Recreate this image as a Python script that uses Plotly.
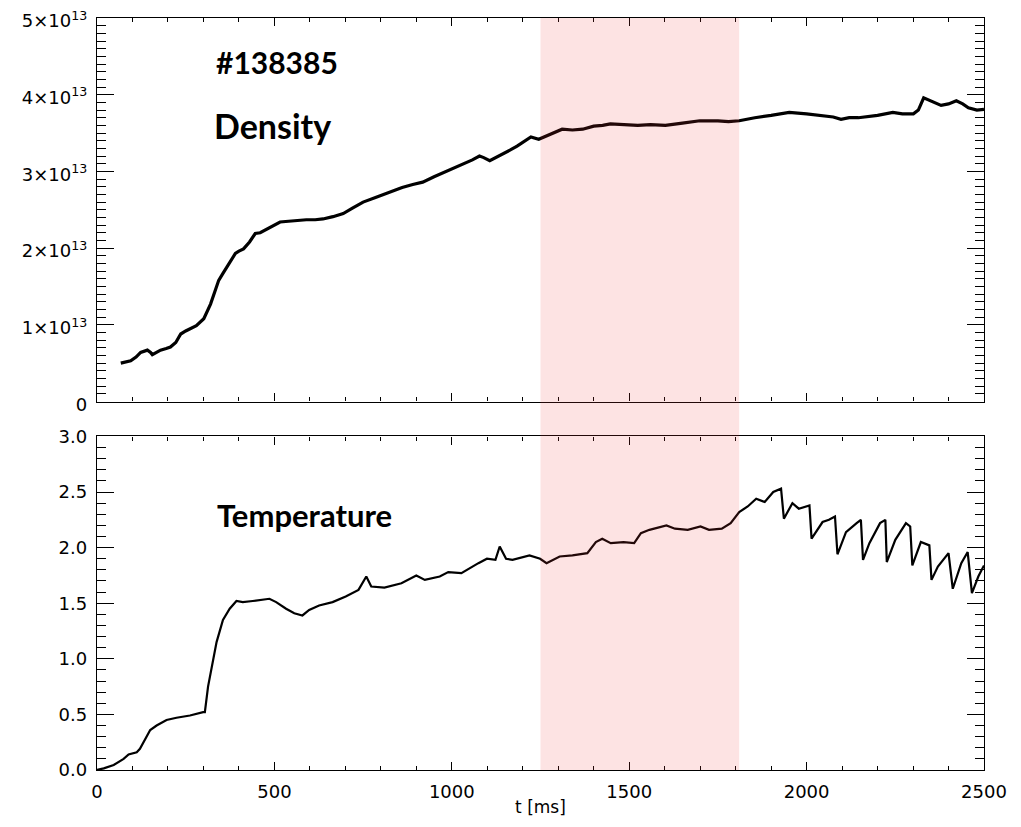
import plotly.graph_objects as go

# ---------------- data ----------------
density_t = [67, 80, 95, 110, 123, 142, 151, 156, 170, 179, 195, 207, 222, 236, 250, 264, 280, 301,
             310, 320, 332, 343, 355, 366, 378, 390, 400, 413, 430, 446, 460, 479, 500, 516, 540,
             563, 590, 615, 637, 665, 694, 720, 750, 785, 824, 860, 890, 918, 950, 975, 1000,
             1030, 1058, 1078, 1090, 1107, 1125, 1146, 1165, 1184, 1205, 1223, 1245, 1270, 1290,
             1311, 1340, 1369, 1400, 1425, 1447, 1480, 1524, 1560, 1602, 1650, 1699, 1750, 1780,
             1810, 1830, 1854, 1900, 1951, 2000, 2049, 2075, 2097, 2120, 2146, 2200, 2243, 2270,
             2301, 2315, 2330, 2349, 2365, 2379, 2400, 2422, 2440, 2456, 2480, 2500]
density_e13 = [0.50, 0.51, 0.53, 0.58, 0.64, 0.67, 0.64, 0.61, 0.64, 0.67, 0.69, 0.71, 0.77, 0.88,
               0.92, 0.95, 0.99, 1.08, 1.16, 1.27, 1.43, 1.58, 1.67, 1.75, 1.84, 1.93, 1.96, 1.99,
               2.08, 2.19, 2.20, 2.25, 2.30, 2.34, 2.35, 2.36, 2.37, 2.37, 2.38, 2.41, 2.45, 2.52,
               2.60, 2.66, 2.73, 2.79, 2.83, 2.86, 2.93, 2.98, 3.04, 3.10, 3.15, 3.20, 3.18, 3.14,
               3.18, 3.23, 3.28, 3.33, 3.40, 3.45, 3.42, 3.47, 3.51, 3.55, 3.54, 3.55, 3.59, 3.60,
               3.62, 3.61, 3.60, 3.61, 3.60, 3.63, 3.66, 3.66, 3.65, 3.66, 3.68, 3.70, 3.73, 3.77,
               3.75, 3.73, 3.71, 3.68, 3.70, 3.70, 3.73, 3.77, 3.75, 3.75, 3.80, 3.96, 3.92, 3.88,
               3.86, 3.88, 3.92, 3.88, 3.83, 3.80, 3.81]

temp_t = [0, 19, 47, 75, 89, 112, 121, 150, 168, 196, 224, 262, 299, 304, 313, 323, 337, 355, 374,
          393, 411, 439, 467, 486, 505, 533, 556, 579, 598, 626, 664, 701, 737, 759, 773, 810,
          858, 882, 900, 924, 966, 990, 1027, 1075, 1099, 1123, 1135, 1153, 1171, 1219, 1249,
          1267, 1304, 1340, 1382, 1406, 1424, 1448, 1484, 1514, 1533, 1557, 1605, 1629, 1665,
          1701, 1725, 1761, 1786, 1810, 1834, 1858, 1882, 1906, 1928, 1936, 1960, 1978, 2008,
          2014, 2045, 2063, 2080, 2087, 2111, 2141, 2153, 2159, 2177, 2207, 2222, 2226, 2250,
          2280, 2292, 2298, 2322, 2346, 2352, 2370, 2400, 2412, 2436, 2454, 2466, 2484, 2500]
temp_keV = [0.00, 0.015, 0.045, 0.10, 0.14, 0.16, 0.19, 0.36, 0.40, 0.45, 0.47, 0.49, 0.52, 0.52,
            0.75, 0.93, 1.15, 1.35, 1.45, 1.52, 1.51, 1.52, 1.53, 1.54, 1.51, 1.45, 1.41, 1.39,
            1.44, 1.48, 1.51, 1.56, 1.62, 1.74, 1.65, 1.64, 1.68, 1.72, 1.75, 1.71, 1.74, 1.78,
            1.77, 1.86, 1.90, 1.89, 2.01, 1.90, 1.89, 1.93, 1.90, 1.86, 1.92, 1.93, 1.95, 2.05,
            2.08, 2.04, 2.05, 2.04, 2.13, 2.16, 2.20, 2.17, 2.16, 2.19, 2.16, 2.17, 2.22, 2.32,
            2.37, 2.44, 2.41, 2.50, 2.53, 2.26, 2.40, 2.35, 2.38, 2.08, 2.23, 2.25, 2.28, 1.94,
            2.14, 2.22, 2.25, 1.89, 2.04, 2.22, 2.25, 1.87, 2.07, 2.22, 2.19, 1.84, 2.05, 2.02,
            1.71, 1.83, 1.95, 1.63, 1.86, 1.96, 1.59, 1.74, 1.84]

shade_range = [1250, 1810]

x_ticks = [0, 500, 1000, 1500, 2000, 2500]
dens_tickvals_e13 = [0, 1, 2, 3, 4, 5]
dens_ticktext = ["0", "1×10<sup>13</sup>", "2×10<sup>13</sup>", "3×10<sup>13</sup>",
                 "4×10<sup>13</sup>", "5×10<sup>13</sup>"]
temp_tickvals = [0.0, 0.5, 1.0, 1.5, 2.0, 2.5, 3.0]

shot_label = "#138385"
panel_labels = ["Density", "Temperature"]
x_title = "t [ms]"

# ---------------- figure ----------------
density = [v * 1e13 for v in density_e13]

fig = go.Figure()
fig.add_trace(go.Scatter(x=density_t, y=density, mode="lines",
                         line=dict(color="black", width=3.2), xaxis="x", yaxis="y",
                         showlegend=False))
fig.add_trace(go.Scatter(x=temp_t, y=temp_keV, mode="lines",
                         line=dict(color="black", width=2.2), xaxis="x2", yaxis="y2",
                         showlegend=False))

fig.add_shape(type="rect", xref="x", yref="paper", x0=shade_range[0], x1=shade_range[1],
              y0=0, y1=1, fillcolor="rgba(240,60,60,0.14)", line=dict(width=0), layer="above")

tick_font = dict(family="DejaVu Sans", size=18, color="black")
axis_common = dict(showline=True, linecolor="black", linewidth=1.3, mirror="ticks",
                   ticks="inside", tickcolor="black", tickwidth=1.2, showgrid=False,
                   zeroline=False, tickfont=tick_font, automargin=False,
                   ticklabeloverflow="allow")

# page body adds an 8 px offset; the figure is sized so the plot lands where the reference has it
fig.update_layout(
    width=1013, height=819,
    margin=dict(l=89, r=37, t=10, b=57),
    plot_bgcolor="white", paper_bgcolor="white",
    font=dict(family="DejaVu Sans", size=18, color="black"),
    xaxis=dict(domain=[0, 1], anchor="y", range=[0, 2500], tickvals=x_ticks,
               showticklabels=False, ticklen=8, matches="x2",
               minor=dict(dtick=100, ticklen=4, ticks="inside", tickcolor="black", tickwidth=1),
               **axis_common),
    yaxis=dict(domain=[0.49, 1.0], anchor="x", range=[0, 5e13],
               tickvals=[v * 1e13 for v in dens_tickvals_e13], ticktext=dens_ticktext,
               ticklen=17, ticklabelstandoff=5, ticklabelshift=3,
               minor=dict(dtick=1e12, ticklen=9, ticks="inside", tickcolor="black", tickwidth=1),
               **axis_common),
    xaxis2=dict(domain=[0, 1], anchor="y2", range=[0, 2500], tickvals=x_ticks,
                ticklen=8, ticklabelstandoff=5,
                title=dict(text=x_title, font=dict(tick_font, size=17), standoff=0),
                minor=dict(dtick=100, ticklen=4, ticks="inside", tickcolor="black", tickwidth=1),
                **axis_common),
    yaxis2=dict(domain=[0, 0.4436], anchor="x2", range=[0, 3.0], tickvals=temp_tickvals,
                tickformat=".1f", ticklen=17, ticklabelstandoff=5,
                minor=dict(dtick=0.1, ticklen=9, ticks="inside", tickcolor="black", tickwidth=1),
                **axis_common),
)

label_font = dict(family="Lato", size=30, color="black", weight="bold")
fig.add_annotation(text=shot_label, xref="paper", yref="paper", x=(214 - 97) / 887,
                   y=(770 - 62) / 752, xanchor="left", yanchor="middle", showarrow=False,
                   font=label_font)
fig.add_annotation(text=panel_labels[0], xref="paper", yref="paper", x=(212 - 97) / 887,
                   y=(770 - 126) / 752, xanchor="left", yanchor="middle", showarrow=False,
                   font=dict(label_font, size=34))
fig.add_annotation(text=panel_labels[1], xref="paper", yref="paper", x=(215 - 97) / 887,
                   y=(770 - 515) / 752, xanchor="left", yanchor="middle", showarrow=False,
                   font=dict(label_font, size=31))

fig.write_html("out.html")
